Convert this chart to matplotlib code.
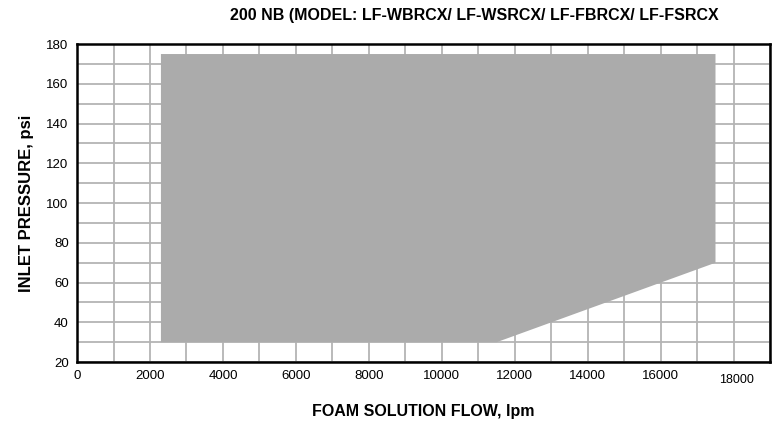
import matplotlib.pyplot as plt
from matplotlib.ticker import MultipleLocator
import matplotlib.transforms as mtransforms

plt.rcParams['font.family'] = ['Liberation Sans', 'DejaVu Sans']

# Operating envelope (flow lpm, pressure psi)
flow = [2300, 17500, 17500, 11500, 2300]
pressure = [175, 175, 70, 30, 30]

x_ticks = [0, 2000, 4000, 6000, 8000, 10000, 12000, 14000, 16000, 18000]
y_ticks = [20, 40, 60, 80, 100, 120, 140, 160, 180]

fig = plt.figure(figsize=(7.78, 4.24), dpi=100)
ax = fig.add_axes([0.099, 0.146, 0.891, 0.75])

ax.set_xlim(0, 19000)
ax.set_ylim(20, 180)

ax.xaxis.set_minor_locator(MultipleLocator(1000))
ax.yaxis.set_minor_locator(MultipleLocator(10))
ax.set_xticks(x_ticks)
ax.set_yticks(y_ticks)
ax.grid(which='both', color='#b4b4b4', linewidth=1.3, zorder=0)
ax.set_axisbelow(True)

ax.fill(flow, pressure, color='#ababab', linewidth=0, zorder=2)

ax.tick_params(which='both', length=0, labelsize=9.5, pad=6)
for s in ax.spines.values():
    s.set_linewidth(1.8)
    s.set_color('black')
    s.set_zorder(3)

# last x label sits a bit lower/right in the original
labels = ax.get_xticklabels()
last = labels[-1]
last.set_fontsize(9)
last.set_transform(last.get_transform() + mtransforms.ScaledTranslation(0.03, -0.04, fig.dpi_scale_trans))

ax.set_xlabel('FOAM SOLUTION FLOW, lpm', fontsize=11.5, fontweight='bold', labelpad=13)
ax.set_ylabel('INLET PRESSURE, psi', fontsize=12, fontweight='bold', labelpad=9)
ax.set_title('200 NB (MODEL: LF-WBRCX/ LF-WSRCX/ LF-FBRCX/ LF-FSRCX', fontsize=11.5,
             fontweight='bold', pad=17, x=0.573)

fig.savefig('out.png', dpi=100)
